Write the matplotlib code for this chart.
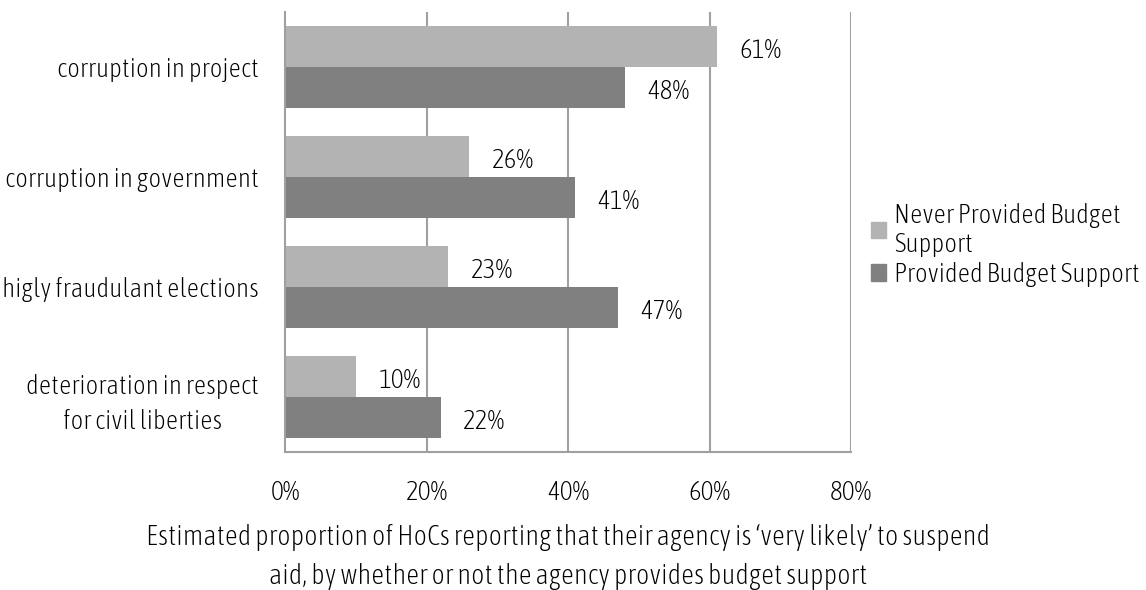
import numpy as np
import matplotlib.pyplot as plt
from matplotlib.patches import Patch

plt.rcParams['font.family'] = ['Asap Condensed', 'DejaVu Sans']
plt.rcParams['font.weight'] = 'light'
plt.rcParams['axes.labelweight'] = 'light'

categories = ['corruption in project', 'corruption in government',
              'higly fraudulant elections',
              'deterioration in respect\nfor civil liberties']
never_bs = [61, 26, 23, 10]
provided_bs = [48, 41, 47, 22]
series_names = ['Never Provided Budget\nSupport', 'Provided Budget Support']
xticks = [0, 20, 40, 60, 80]

light, dark, grid = '#b3b3b3', '#808080', '#a0a0a0'
fs = 19.5

fig = plt.figure(figsize=(11.46, 5.90), dpi=100)
ax = fig.add_axes([0.2487, 0.2339, 0.4939, 0.7458])

y = np.arange(len(categories))
h = 0.373
ax.barh(y - h / 2, never_bs, height=h, color=light, zorder=2)
ax.barh(y + h / 2, provided_bs, height=h, color=dark, zorder=2)

# value labels just right of each bar
for yi, v in zip(y - h / 2, never_bs):
    ax.text(v + 3.2, yi + 0.04, f'{v}%', va='center', ha='left', fontsize=fs)
for yi, v in zip(y + h / 2, provided_bs):
    ax.text(v + 3.2, yi + 0.04, f'{v}%', va='center', ha='left', fontsize=fs)

ax.set_xlim(0, 80)
ax.set_ylim(len(categories) - 0.5, -0.5)
ax.set_xticks(xticks)
ax.set_xticklabels([f'{t}%' for t in xticks], fontsize=fs)
ax.set_yticks(y)
ax.set_yticklabels(categories, fontsize=fs, ha='right', linespacing=1.5)
for lab in ax.get_yticklabels():
    lab.set_multialignment('center')
ax.tick_params(length=0, axis='both')
ax.tick_params(axis='x', pad=20)
ax.tick_params(axis='y', pad=19)

for t in xticks[1:]:
    ax.axvline(t, color=grid, lw=1.5, zorder=1)
for side in ['top', 'right']:
    ax.spines[side].set_visible(False)
for side in ['left', 'bottom']:
    ax.spines[side].set_color(grid)
    ax.spines[side].set_linewidth(1.5)

ax.set_xlabel("Estimated proportion of HoCs reporting that their agency is \u2018very likely\u2019 to suspend\n"
              "aid, by whether or not the agency provides budget support",
              fontsize=20.5, labelpad=14, linespacing=1.55)

handles = [Patch(color=light), Patch(color=dark)]
fig.legend(handles, series_names, loc='center left', bbox_to_anchor=(0.760, 0.585),
           frameon=False, fontsize=fs, handlelength=0.55, handleheight=0.55,
           handletextpad=0.3, labelspacing=0.2, borderpad=0, borderaxespad=0)

fig.savefig('out.png', dpi=100)
